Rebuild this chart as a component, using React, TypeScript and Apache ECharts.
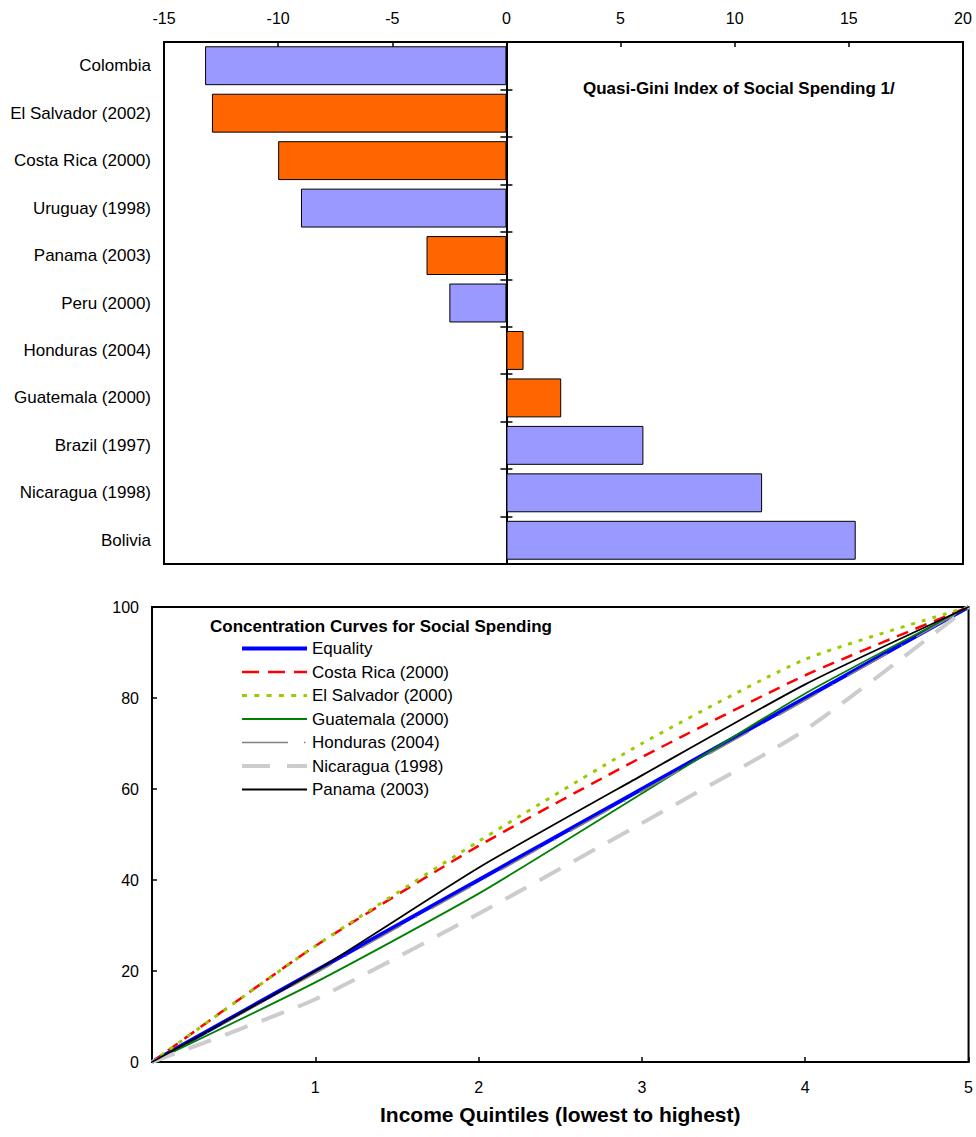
import React, { useEffect, useRef } from "react";
import * as echarts from "echarts";

// ---- Top chart data: Quasi-Gini index of social spending ----
const countries = [
  "Colombia",
  "El Salvador (2002)",
  "Costa Rica (2000)",
  "Uruguay (1998)",
  "Panama (2003)",
  "Peru (2000)",
  "Honduras (2004)",
  "Guatemala (2000)",
  "Brazil (1997)",
  "Nicaragua (1998)",
  "Bolivia",
];
const quasiGini = [-13.2, -12.9, -10.0, -9.0, -3.5, -2.5, 0.75, 2.4, 6.0, 11.2, 15.3];
const highlightedCountries = [
  "El Salvador (2002)",
  "Costa Rica (2000)",
  "Panama (2003)",
  "Honduras (2004)",
  "Guatemala (2000)",
];

// ---- Bottom chart data: concentration curves (cumulative %) ----
const quintiles = [0, 1, 2, 3, 4, 5];
const equality = [0, 20, 40, 60, 80, 100];
const costaRica = [0, 25.5, 47.5, 67, 85, 100];
const elSalvador = [0, 25.5, 48.5, 70, 88.5, 100];
const guatemala = [0, 17.5, 37, 59, 81, 100];
const honduras = [0, 19.5, 39.5, 59.5, 79.5, 100];
const nicaragua = [0, 13.8, 32.6, 52.5, 73, 100];
const panama = [0, 20, 42.7, 63, 83, 100];

const FONT = 'Arial, "Liberation Sans", sans-serif';

type CurveDef = {
  name: string;
  values: number[];
  color: string;
  width: number;
  dash: number[] | "solid";
  legendDash: number[] | "solid";
};

const curves: CurveDef[] = [
  { name: "Equality", values: equality, color: "#0000ff", width: 4, dash: "solid", legendDash: "solid" },
  { name: "Costa Rica (2000)", values: costaRica, color: "#ff0000", width: 2.5, dash: [12, 8], legendDash: [17, 9] },
  { name: "El Salvador (2000)", values: elSalvador, color: "#99cc00", width: 3, dash: [4, 7], legendDash: [5, 7.3] },
  { name: "Guatemala (2000)", values: guatemala, color: "#008000", width: 1.8, dash: "solid", legendDash: "solid" },
  { name: "Honduras (2004)", values: honduras, color: "#808080", width: 1.5, dash: [46, 16, 1.5, 16], legendDash: [46, 16, 1.5, 16] },
  { name: "Nicaragua (1998)", values: nicaragua, color: "#cccccc", width: 4, dash: [24, 15], legendDash: [28, 17] },
  { name: "Panama (2003)", values: panama, color: "#000000", width: 1.8, dash: "solid", legendDash: "solid" },
];

export default function App() {
  const ref = useRef<HTMLDivElement>(null);

  useEffect(() => {
    document.body.style.margin = "0";
    if (!ref.current) return;
    const chart = echarts.init(ref.current, undefined, { renderer: "svg" });

    const catAxisBase = {
      type: "category" as const,
      gridIndex: 0,
      data: countries,
      inverse: true,
    };

    const option: any = {
      animation: false,
      textStyle: { fontFamily: FONT, color: "#000" },
      title: [
        {
          text: "Quasi-Gini Index of Social Spending 1/",
          left: 583,
          top: 80,
          padding: 0,
          textStyle: { fontFamily: FONT, fontSize: 17, fontWeight: "bold", color: "#000" },
        },
        {
          text: "Concentration Curves for Social Spending",
          left: 210,
          top: 618,
          padding: 0,
          textStyle: { fontFamily: FONT, fontSize: 17, fontWeight: "bold", color: "#000" },
        },
      ],
      legend: {
        orient: "vertical",
        left: 240,
        top: 640,
        padding: 0,
        itemWidth: 65,
        itemHeight: 14,
        itemGap: 6.5,
        selectedMode: false,
        itemStyle: { opacity: 0 },
        textStyle: { fontFamily: FONT, fontSize: 17, color: "#000" },
        data: curves.map((c) => ({
          name: c.name,
          itemStyle: { opacity: 0, color: "transparent", borderColor: "transparent", borderWidth: 0 },
          lineStyle: { color: c.color, width: c.width, type: c.legendDash, cap: "butt", opacity: 1 },
        })),
      },
      grid: [
        {
          left: 164,
          top: 42,
          width: 799,
          height: 522,
          show: true,
          borderColor: "#000",
          borderWidth: 2,
          backgroundColor: "transparent",
        },
        {
          left: 152,
          top: 607,
          width: 819,
          height: 455,
          show: true,
          borderColor: "#000",
          borderWidth: 2,
          backgroundColor: "transparent",
        },
      ],
      xAxis: [
        {
          type: "value",
          gridIndex: 0,
          position: "top",
          min: -15,
          max: 20,
          interval: 5,
          axisLine: { show: true, onZero: false, lineStyle: { color: "#000", width: 2 } },
          axisTick: { show: true, inside: true, length: 5, lineStyle: { color: "#000", width: 1.5 } },
          axisLabel: { fontSize: 16, margin: 16, color: "#000", fontFamily: FONT },
          splitLine: { show: false },
        },
        {
          type: "value",
          gridIndex: 1,
          min: 0,
          max: 5,
          interval: 1,
          name: "Income Quintiles (lowest to highest)",
          nameLocation: "middle",
          nameGap: 42,
          nameTextStyle: { fontFamily: FONT, fontSize: 21, fontWeight: "bold", color: "#000" },
          axisLine: { show: true, onZero: false, lineStyle: { color: "#000", width: 2 } },
          axisTick: { show: true, inside: true, length: 5, lineStyle: { color: "#000", width: 1.5 } },
          axisLabel: {
            fontSize: 16,
            margin: 17,
            color: "#000",
            fontFamily: FONT,
            formatter: (v: number) => (v === 0 ? "" : String(v)),
          },
          splitLine: { show: false },
        },
      ],
      yAxis: [
        {
          ...catAxisBase,
          position: "left",
          axisLine: { show: false, onZero: false },
          axisTick: { show: false },
          axisLabel: { fontSize: 17, margin: 13, color: "#000", fontFamily: FONT },
        },
        {
          ...catAxisBase,
          position: "left",
          axisLine: { show: true, onZero: true, onZeroAxisIndex: 0, lineStyle: { color: "#000", width: 2 } },
          axisTick: { show: true, length: 6, lineStyle: { color: "#000", width: 1.5 } },
          axisLabel: { show: false },
        },
        {
          ...catAxisBase,
          position: "right",
          axisLine: { show: false, onZero: true, onZeroAxisIndex: 0 },
          axisTick: { show: true, length: 6, lineStyle: { color: "#000", width: 1.5 } },
          axisLabel: { show: false },
        },
        {
          type: "value",
          gridIndex: 1,
          min: 0,
          max: 100,
          interval: 20,
          axisLine: { show: true, onZero: false, lineStyle: { color: "#000", width: 2 } },
          axisTick: { show: true, inside: true, length: 5, lineStyle: { color: "#000", width: 1.5 } },
          axisLabel: { fontSize: 16, margin: 13, color: "#000", fontFamily: FONT },
          splitLine: { show: false },
        },
      ],
      series: [
        {
          type: "bar",
          name: "Quasi-Gini",
          xAxisIndex: 0,
          yAxisIndex: 0,
          barCategoryGap: "18%",
          itemStyle: { borderColor: "#000", borderWidth: 1 },
          data: quasiGini.map((v, i) => ({
            value: v,
            itemStyle: {
              color: highlightedCountries.includes(countries[i]) ? "#ff6600" : "#9999ff",
            },
          })),
        },
        ...curves.map((c) => ({
          type: "line",
          name: c.name,
          xAxisIndex: 1,
          yAxisIndex: 3,
          symbol: "none",
          smooth: 0.2,
          lineStyle: { color: c.color, width: c.width, type: c.dash, cap: "butt" },
          itemStyle: { color: c.color },
          data: quintiles.map((q, i) => [q, c.values[i]]),
        })),
      ],
    };

    chart.setOption(option);
    return () => chart.dispose();
  }, []);

  return <div ref={ref} style={{ width: 976, height: 1137 }} />;
}
